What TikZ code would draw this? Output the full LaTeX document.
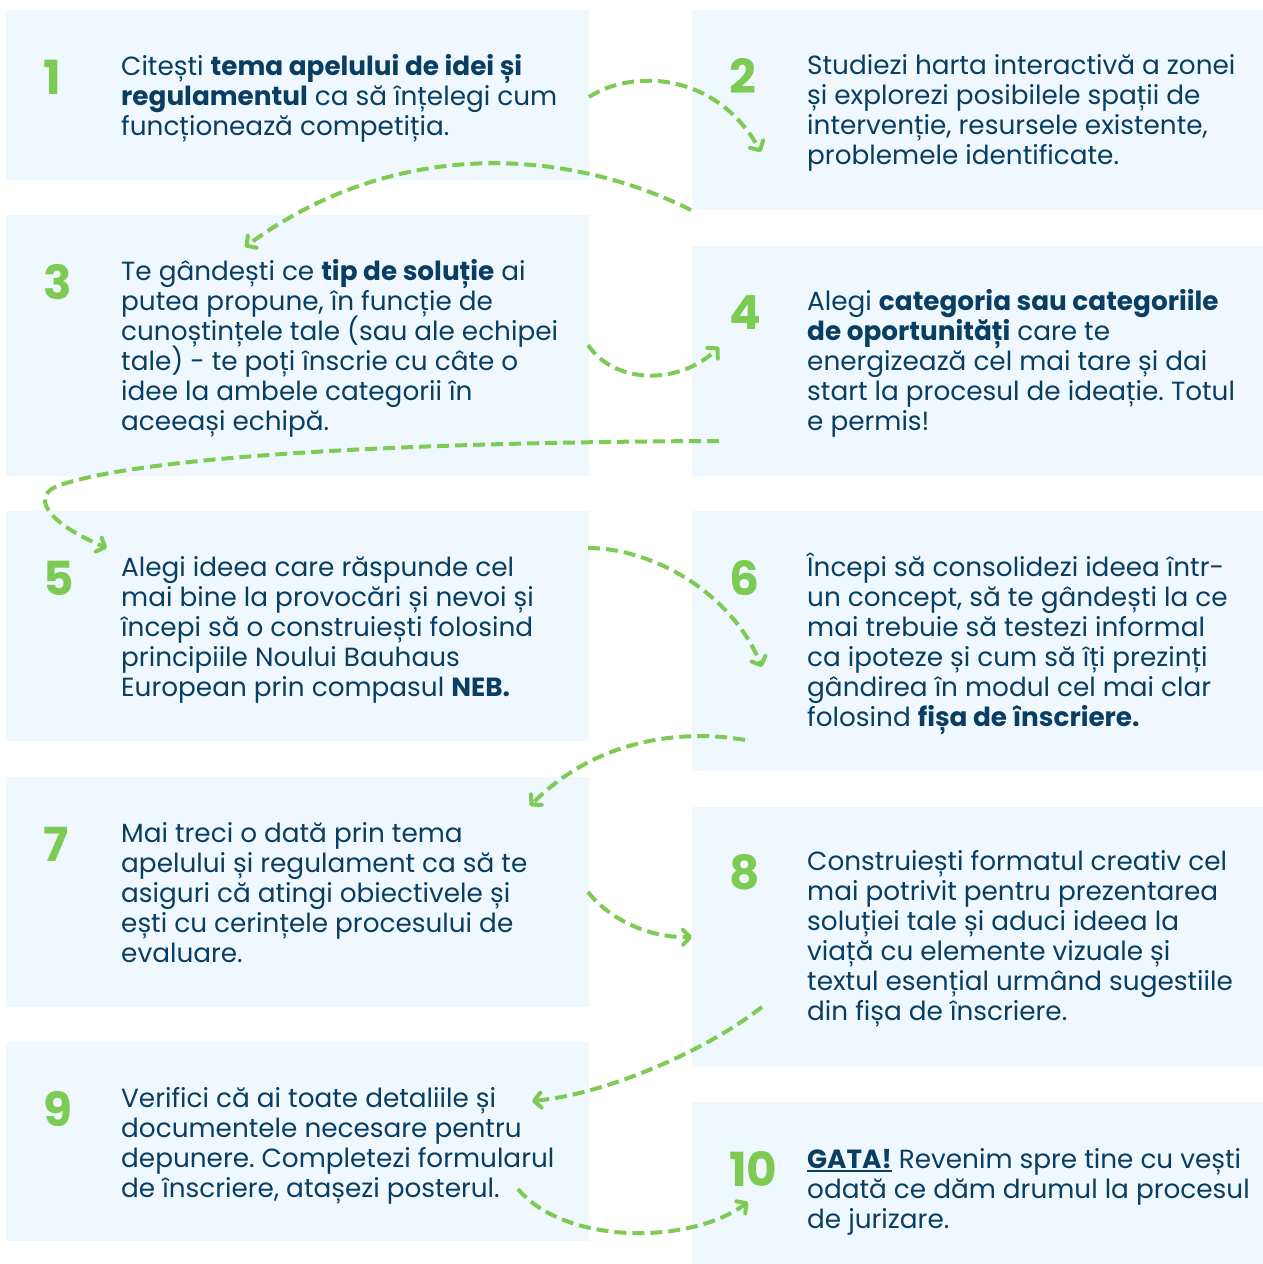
\documentclass[tikz,border=0pt]{standalone}
\usepackage{fontspec}
\setmainfont{Poppins}
\usetikzlibrary{arrows.meta}
\definecolor{navy}{RGB}{10,61,98}
\definecolor{leaf}{RGB}{126,203,84}
\definecolor{panel}{RGB}{239,248,254}
\frenchspacing
\newcommand\stepbody[1]{\parbox[t]{640pt}{\fontsize{26.3}{30}\selectfont\lineskiplimit=-100pt\lineskip=0pt\raggedright #1}}
\newcommand\ulgata[1]{\leavevmode\setbox0\hbox{#1}\rlap{\rule[-4pt]{\wd0}{2.2pt}}\box0\relax}
\begin{document}
\begin{tikzpicture}[x=1pt,y=-1pt,
  panelbox/.style={fill=panel, draw=none, anchor=north west, inner sep=0pt, outer sep=0pt},
  stepnum/.style={anchor=base west, inner sep=0pt, text=leaf, font=\fontsize{47}{47}\selectfont\bfseries},
  steptext/.style={anchor=base west, inner sep=0pt, text=navy},
  flow/.style={draw=leaf, line width=4pt, dash pattern=on 12pt off 6pt,
    -{Straight Barb[round,length=7pt,width=15pt]}}]
\useasboundingbox (0,0) rectangle (1263,1264);
\fill[white] (0,0) rectangle (1263,1264);
% panels
\node[panelbox, minimum width=583pt, minimum height=170pt] (b1) at (6,10) {};
\node[panelbox, minimum width=571pt, minimum height=200pt] (b2) at (692,10) {};
\node[panelbox, minimum width=583pt, minimum height=261pt] (b3) at (6,215) {};
\node[panelbox, minimum width=571pt, minimum height=230pt] (b4) at (692,246) {};
\node[panelbox, minimum width=583pt, minimum height=230pt] (b5) at (6,511) {};
\node[panelbox, minimum width=571pt, minimum height=260pt] (b6) at (692,511) {};
\node[panelbox, minimum width=583pt, minimum height=230pt] (b7) at (6,777) {};
\node[panelbox, minimum width=571pt, minimum height=260pt] (b8) at (692,807) {};
\node[panelbox, minimum width=583pt, minimum height=199pt] (b9) at (6,1042) {};
\node[panelbox, minimum width=571pt, minimum height=162pt] (b10) at (692,1102) {};
% numbers
\node[stepnum] (n1) at (43,94) {1};
\node[stepnum] (n2) at (729,93) {2};
\node[stepnum] (n3) at (43,299) {3};
\node[stepnum] (n4) at (729,329) {4};
\node[stepnum] (n5) at (43,595) {5};
\node[stepnum] (n6) at (729,595) {6};
\node[stepnum] (n7) at (43,861) {7};
\node[stepnum] (n8) at (729,889) {8};
\node[stepnum] (n9) at (43,1126) {9};
\node[stepnum] (n10) at (729,1186) {10};
% texts
\node[steptext] (t1) at (121,75) {\stepbody{Citești \textbf{tema apelului de idei și}\\ \textbf{regulamentul} ca să înțelegi cum\\ funcționează competiția.}};
\node[steptext] (t2) at (807,74) {\stepbody{Studiezi harta interactivă a zonei\\ și explorezi posibilele spații de\\ intervenție, resursele existente,\\ problemele identificate.}};
\node[steptext] (t3) at (121,280) {\stepbody{Te gândești ce \textbf{tip de soluție} ai\\ putea propune, în funcție de\\ cunoștințele tale (sau ale echipei\\ tale) - te poți înscrie cu câte o\\ idee la ambele categorii în\\ aceeași echipă.}};
\node[steptext] (t4) at (807,310) {\stepbody{Alegi \textbf{categoria sau categoriile}\\ \textbf{de oportunități} care te\\ energizează cel mai tare și dai\\ start la procesul de ideație. Totul\\ e permis!}};
\node[steptext] (t5) at (121,576) {\stepbody{Alegi ideea care răspunde cel\\ mai bine la provocări și nevoi și\\ începi să o construiești folosind\\ principiile Noului Bauhaus\\ European prin compasul \textbf{NEB.}}};
\node[steptext] (t6) at (807,576) {\stepbody{Începi să consolidezi ideea într-\\ un concept, să te gândești la ce\\ mai trebuie să testezi informal\\ ca ipoteze și cum să îți prezinți\\ gândirea în modul cel mai clar\\ folosind \textbf{fișa de înscriere.}}};
\node[steptext] (t7) at (121,842) {\stepbody{Mai treci o dată prin tema\\ apelului și regulament ca să te\\ asiguri că atingi obiectivele și\\ ești cu cerințele procesului de\\ evaluare.}};
\node[steptext] (t8) at (807,870) {\stepbody{Construiești formatul creativ cel\\ mai potrivit pentru prezentarea\\ soluției tale și aduci ideea la\\ viață cu elemente vizuale și\\ textul esențial urmând sugestiile\\ din fișa de înscriere.}};
\node[steptext] (t9) at (121,1107) {\stepbody{Verifici că ai toate detaliile și\\ documentele necesare pentru\\ depunere. Completezi formularul\\ de înscriere, atașezi posterul.}};
\node[steptext] (t10) at (807,1168) {\stepbody{\ulgata{\textbf{GATA!}} Revenim spre tine cu vești\\ odată ce dăm drumul la procesul\\ de jurizare.}};
% connector end points
\coordinate (a1s) at (589,97);   \coordinate (a1e) at (761,152);
\coordinate (a2s) at (691,210);  \coordinate (a2e) at (245,247);
\coordinate (a3s) at (588,345);  \coordinate (a3e) at (719,347);
\coordinate (a4s) at (719,441);  \coordinate (a4m) at (60,485); \coordinate (a4e) at (107,548);
\coordinate (a5s) at (588,548);  \coordinate (a5e) at (762,667);
\coordinate (a6s) at (745,740);  \coordinate (a6e) at (530,806);
\coordinate (a7s) at (588,892);  \coordinate (a7e) at (692,937);
\coordinate (a8s) at (762,1007); \coordinate (a8e) at (532,1101);
\coordinate (a9s) at (518,1189); \coordinate (a9e) at (748,1202);
% connectors
\draw[flow] (a1s) .. controls (630,70) and (715,70) .. (a1e);
\draw[flow] (a2s) .. controls (560,145) and (390,140) .. (a2e);
\draw[flow] (a3s) .. controls (615,385) and (680,385) .. (a3e);
\draw[flow] (a4s) .. controls (420,442) and (150,455) .. (a4m) .. controls (30,495) and (45,522) .. (a4e);
\draw[flow] (a5s) .. controls (650,548) and (730,590) .. (a5e);
\draw[flow] (a6s) .. controls (690,730) and (600,735) .. (a6e);
\draw[flow] (a7s) .. controls (610,920) and (650,938) .. (a7e);
\draw[flow] (a8s) .. controls (700,1055) and (600,1095) .. (a8e);
\draw[flow] (a9s) .. controls (565,1245) and (690,1245) .. (a9e);
\end{tikzpicture}
\end{document}
